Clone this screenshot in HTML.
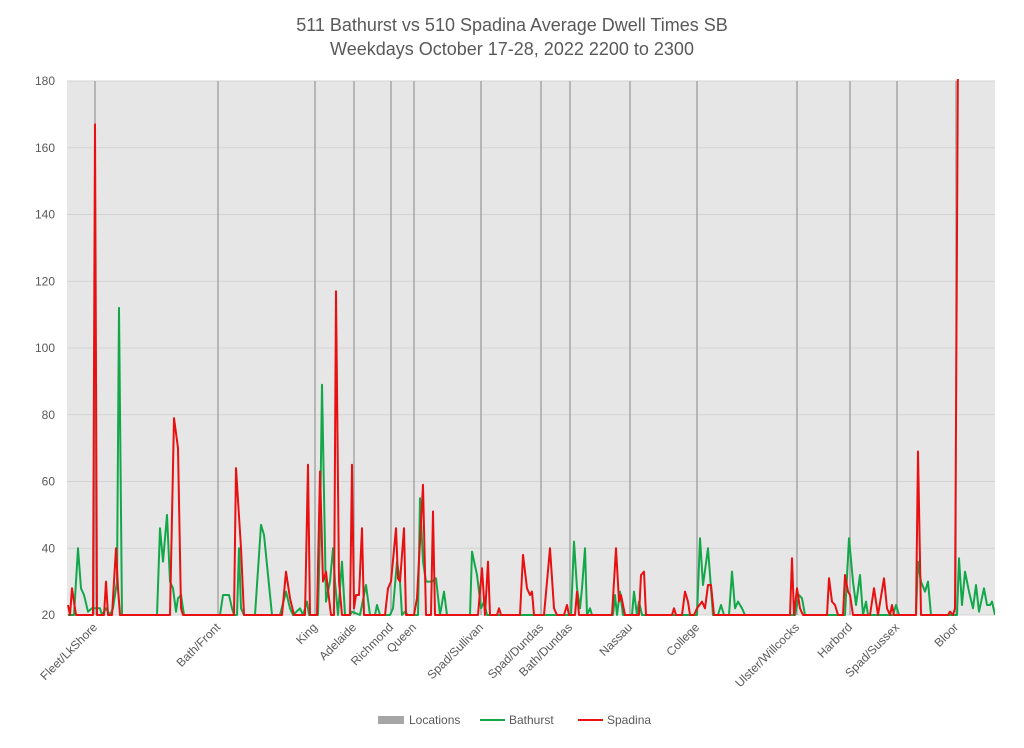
<!DOCTYPE html>
<html><head><meta charset="utf-8"><style>
body{margin:0;background:#fff;}
svg text{font-family:"Liberation Sans",sans-serif;fill:#595959;}
</style></head><body>
<svg id="chart" width="1024" height="743" xmlns="http://www.w3.org/2000/svg">
<rect width="1024" height="743" fill="#fff"/>
<text x="512" y="31" text-anchor="middle" font-size="18">511 Bathurst vs 510 Spadina Average Dwell Times SB</text>
<text x="512" y="55" text-anchor="middle" font-size="18">Weekdays October 17-28, 2022 2200 to 2300</text>
<rect x="67" y="81" width="928" height="534" fill="#e7e6e6"/>
<g id="grid"></g><g id="locs"></g><g id="yticks"></g><g id="xlabels"></g>
<defs><clipPath id="pc"><rect x="67" y="79" width="928" height="540"/></clipPath></defs>
<g id="series" clip-path="url(#pc)"></g>
<g>
<rect x="378" y="716" width="26" height="8" fill="#a6a6a6"/>
<text x="409" y="724" font-size="12">Locations</text>
<line x1="480" y1="720" x2="505" y2="720" stroke="#12a84a" stroke-width="2"/>
<text x="509" y="724" font-size="12">Bathurst</text>
<line x1="578" y1="720" x2="603" y2="720" stroke="#e81010" stroke-width="2"/>
<text x="607" y="724" font-size="12">Spadina</text>
</g>
</svg>
<script>
const yTicks=[20,40,60,80,100,120,140,160,180];
const locNames=["Fleet/LkShore","Bath/Front","King","Adelaide","Richmond","Queen","Spad/Sullivan","Spad/Dundas","Bath/Dundas","Nassau","College","Ulster/Willcocks","Harbord","Spad/Sussex","Bloor"];
const locPos=[95,218,315,354,391,414,481,541,570,630,697,797,850,897,956];
const spadina=[[68,23],[70,20],[72,28],[76,20],[93,20],[95,167],[97,20],[104,20],[106,30],[108,20],[112,20],[116,40],[118,28],[120,20],[170,20],[174,79],[178,70],[181,22],[183,20],[234,20],[236,64],[241,40],[244,20],[282,20],[286,33],[290,25],[294,20],[305,20],[308,65],[310,20],[317,20],[320,63],[323,30],[326,33],[329,25],[331,20],[334,20],[336,117],[339,30],[342,20],[350,20],[352,65],[354,22],[356,26],[359,26],[362,46],[364,20],[385,20],[388,28],[391,30],[396,46],[398,31],[400,30],[404,46],[406,20],[414,20],[417,25],[423,59],[426,20],[431,20],[433,51],[435,20],[478,20],[482,34],[485,20],[488,36],[490,20],[497,20],[499,22],[501,20],[520,20],[523,38],[527,28],[530,26],[532,27],[534,20],[544,20],[550,40],[554,22],[557,20],[564,20],[567,23],[569,20],[575,20],[577,27],[579,20],[612,20],[616,40],[619,24],[621,26],[625,20],[639,20],[641,32],[644,33],[646,20],[672,20],[674,22],[676,20],[682,20],[685,27],[688,24],[690,20],[694,20],[697,22],[702,24],[705,22],[708,29],[711,29],[714,20],[790,20],[792,37],[794,20],[797,28],[800,22],[803,20],[827,20],[829,31],[832,24],[835,23],[838,20],[843,20],[845,32],[848,27],[850,26],[853,20],[870,20],[874,28],[878,20],[884,31],[887,22],[890,20],[892,23],[894,20],[916,20],[918,69],[921,20],[948,20],[950,21],[953,20],[955,22],[958,190]];
const bathurst=[[68,20],[74,20],[78,40],[81,28],[84,26],[88,21],[92,22],[96,22],[100,22],[102,20],[106,22],[110,20],[113,22],[117,30],[119,112],[122,20],[157,20],[160,46],[163,36],[167,50],[170,30],[173,28],[176,21],[178,25],[181,26],[184,20],[220,20],[223,26],[226,26],[229,26],[232,22],[234,20],[237,20],[239,40],[241,22],[244,20],[255,20],[261,47],[264,44],[272,20],[280,20],[286,27],[290,22],[293,20],[300,22],[303,20],[307,24],[309,20],[318,20],[320,45],[322,89],[326,24],[330,30],[333,40],[335,30],[338,20],[342,36],[345,20],[350,20],[352,21],[360,20],[366,29],[370,20],[375,20],[377,23],[380,20],[390,20],[393,22],[397,36],[400,30],[402,20],[405,21],[408,20],[418,20],[420,55],[423,36],[426,30],[428,30],[432,30],[436,31],[440,20],[444,27],[447,20],[470,20],[472,39],[477,32],[481,22],[484,24],[487,20],[571,20],[574,42],[577,28],[580,22],[582,28],[585,40],[587,20],[590,22],[592,20],[613,20],[615,26],[617,20],[620,27],[623,20],[632,20],[634,27],[637,20],[639,24],[642,20],[697,20],[700,43],[703,29],[708,40],[713,20],[718,20],[721,23],[724,20],[729,20],[732,33],[735,22],[738,24],[742,22],[745,20],[795,20],[799,26],[802,25],[805,20],[845,20],[849,43],[853,30],[856,23],[860,32],[863,20],[866,24],[868,20],[893,20],[896,23],[899,20],[916,20],[918,36],[921,30],[925,27],[928,30],[931,20],[957,20],[959,37],[962,23],[965,33],[969,27],[973,22],[976,29],[979,21],[984,28],[987,23],[990,23],[992,24],[995,20]];

const L=67,R=995,T=81,B=615;
const D0=67,D1=995;
const xs=d=>L+(d-D0)*(R-L)/(D1-D0);
const ys=v=>B-(v-20)*(B-T)/160;
const NS="http://www.w3.org/2000/svg";
function mk(tag,attrs,parent,txt){const e=document.createElementNS(NS,tag);for(const k in attrs)e.setAttribute(k,attrs[k]);if(txt!==undefined)e.textContent=txt;document.getElementById(parent).appendChild(e);return e;}
yTicks.forEach(v=>{
  const g=mk('line',{x1:L,x2:R,y1:ys(v),y2:ys(v),stroke:'#d4d3d3','stroke-width':1},'grid');
  
  
  const t=mk('text',{x:55,y:ys(v)+4,'text-anchor':'end','font-size':12},'yticks',String(v));
  
  
});
locNames.forEach((n,i)=>{
  const x=xs(locPos[i]);
  const l=mk('line',{x1:x,x2:x,y1:T,y2:B,stroke:'#a6a6a6','stroke-width':1.5},'locs');
  
  
  const t=mk('text',{x:x+3,y:628,'text-anchor':'end','font-size':12,transform:`rotate(-45 ${x+3} 628)`},'xlabels',n);
  
  
});
function drawLine(P,color,name){
  const d=P.map((p,i)=>(i?'L':'M')+xs(p[0]).toFixed(1)+','+ys(p[1]).toFixed(1)).join('');
  const el=mk('path',{d:d,fill:'none',stroke:color,'stroke-width':2,'stroke-linejoin':'round'},'series');
  
  
}
drawLine(bathurst,'#12a84a','bathurst-line');
drawLine(spadina,'#e81010','spadina-line');
</script>
</body></html>
